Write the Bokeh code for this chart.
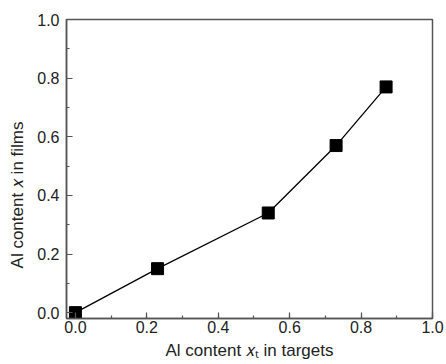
from bokeh.plotting import figure
from bokeh.models import SingleIntervalTicker, Range1d, ColumnDataSource, CustomJSTickFormatter
from bokeh.embed import file_html
from bokeh.resources import INLINE

x_target = [0.0, 0.23, 0.54, 0.73, 0.87]
x_film = [0.0, 0.15, 0.34, 0.57, 0.77]
x_label = "Al content 𝑥ₜ in targets"
y_label = "Al content 𝑥 in films" + "\u00a0" * 11

src = ColumnDataSource(dict(x=x_target, y=x_film))

p = figure(width=446, height=364, output_backend="svg", toolbar_location=None,
           x_range=Range1d(-0.025, 1.0), y_range=Range1d(-0.02, 1.0),
           min_border_left=66, min_border_right=14, min_border_top=19, min_border_bottom=46)
p.background_fill_color = "white"
p.border_fill_color = "white"
p.grid.visible = False
p.outline_line_color = "#555555"
p.outline_line_width = 1.5

fmt = CustomJSTickFormatter(code="return tick.toFixed(1);")
for ax in (p.xaxis[0], p.yaxis[0]):
    ax.ticker = SingleIntervalTicker(interval=0.2, num_minor_ticks=2)
    ax.formatter = fmt
    ax.major_tick_in = 6
    ax.major_tick_out = 0
    ax.minor_tick_in = 3
    ax.minor_tick_out = 0
    ax.axis_line_color = "#555555"
    ax.axis_line_width = 1.5
    ax.major_tick_line_color = "#555555"
    ax.minor_tick_line_color = "#555555"
    ax.major_tick_line_width = 1.2
    ax.minor_tick_line_width = 1.2
    ax.major_label_text_font = "Liberation Sans"
    ax.major_label_text_font_size = "16px"
    ax.major_label_text_color = "#222222"
    ax.axis_label_text_font = "Liberation Sans"
    ax.axis_label_text_font_size = "17px"
    ax.axis_label_text_font_style = "normal"
    ax.axis_label_text_color = "#222222"

p.xaxis[0].axis_label = x_label
p.yaxis[0].axis_label = y_label
p.xaxis[0].major_label_standoff = 2
p.yaxis[0].major_label_standoff = 7
p.xaxis[0].axis_label_standoff = 5
p.yaxis[0].axis_label_standoff = 7

p.line("x", "y", source=src, line_color="black", line_width=1.3)
p.scatter("x", "y", source=src, marker="square", size=12, fill_color="black", line_color="black")

open("out.html", "w").write(file_html(p, INLINE))
